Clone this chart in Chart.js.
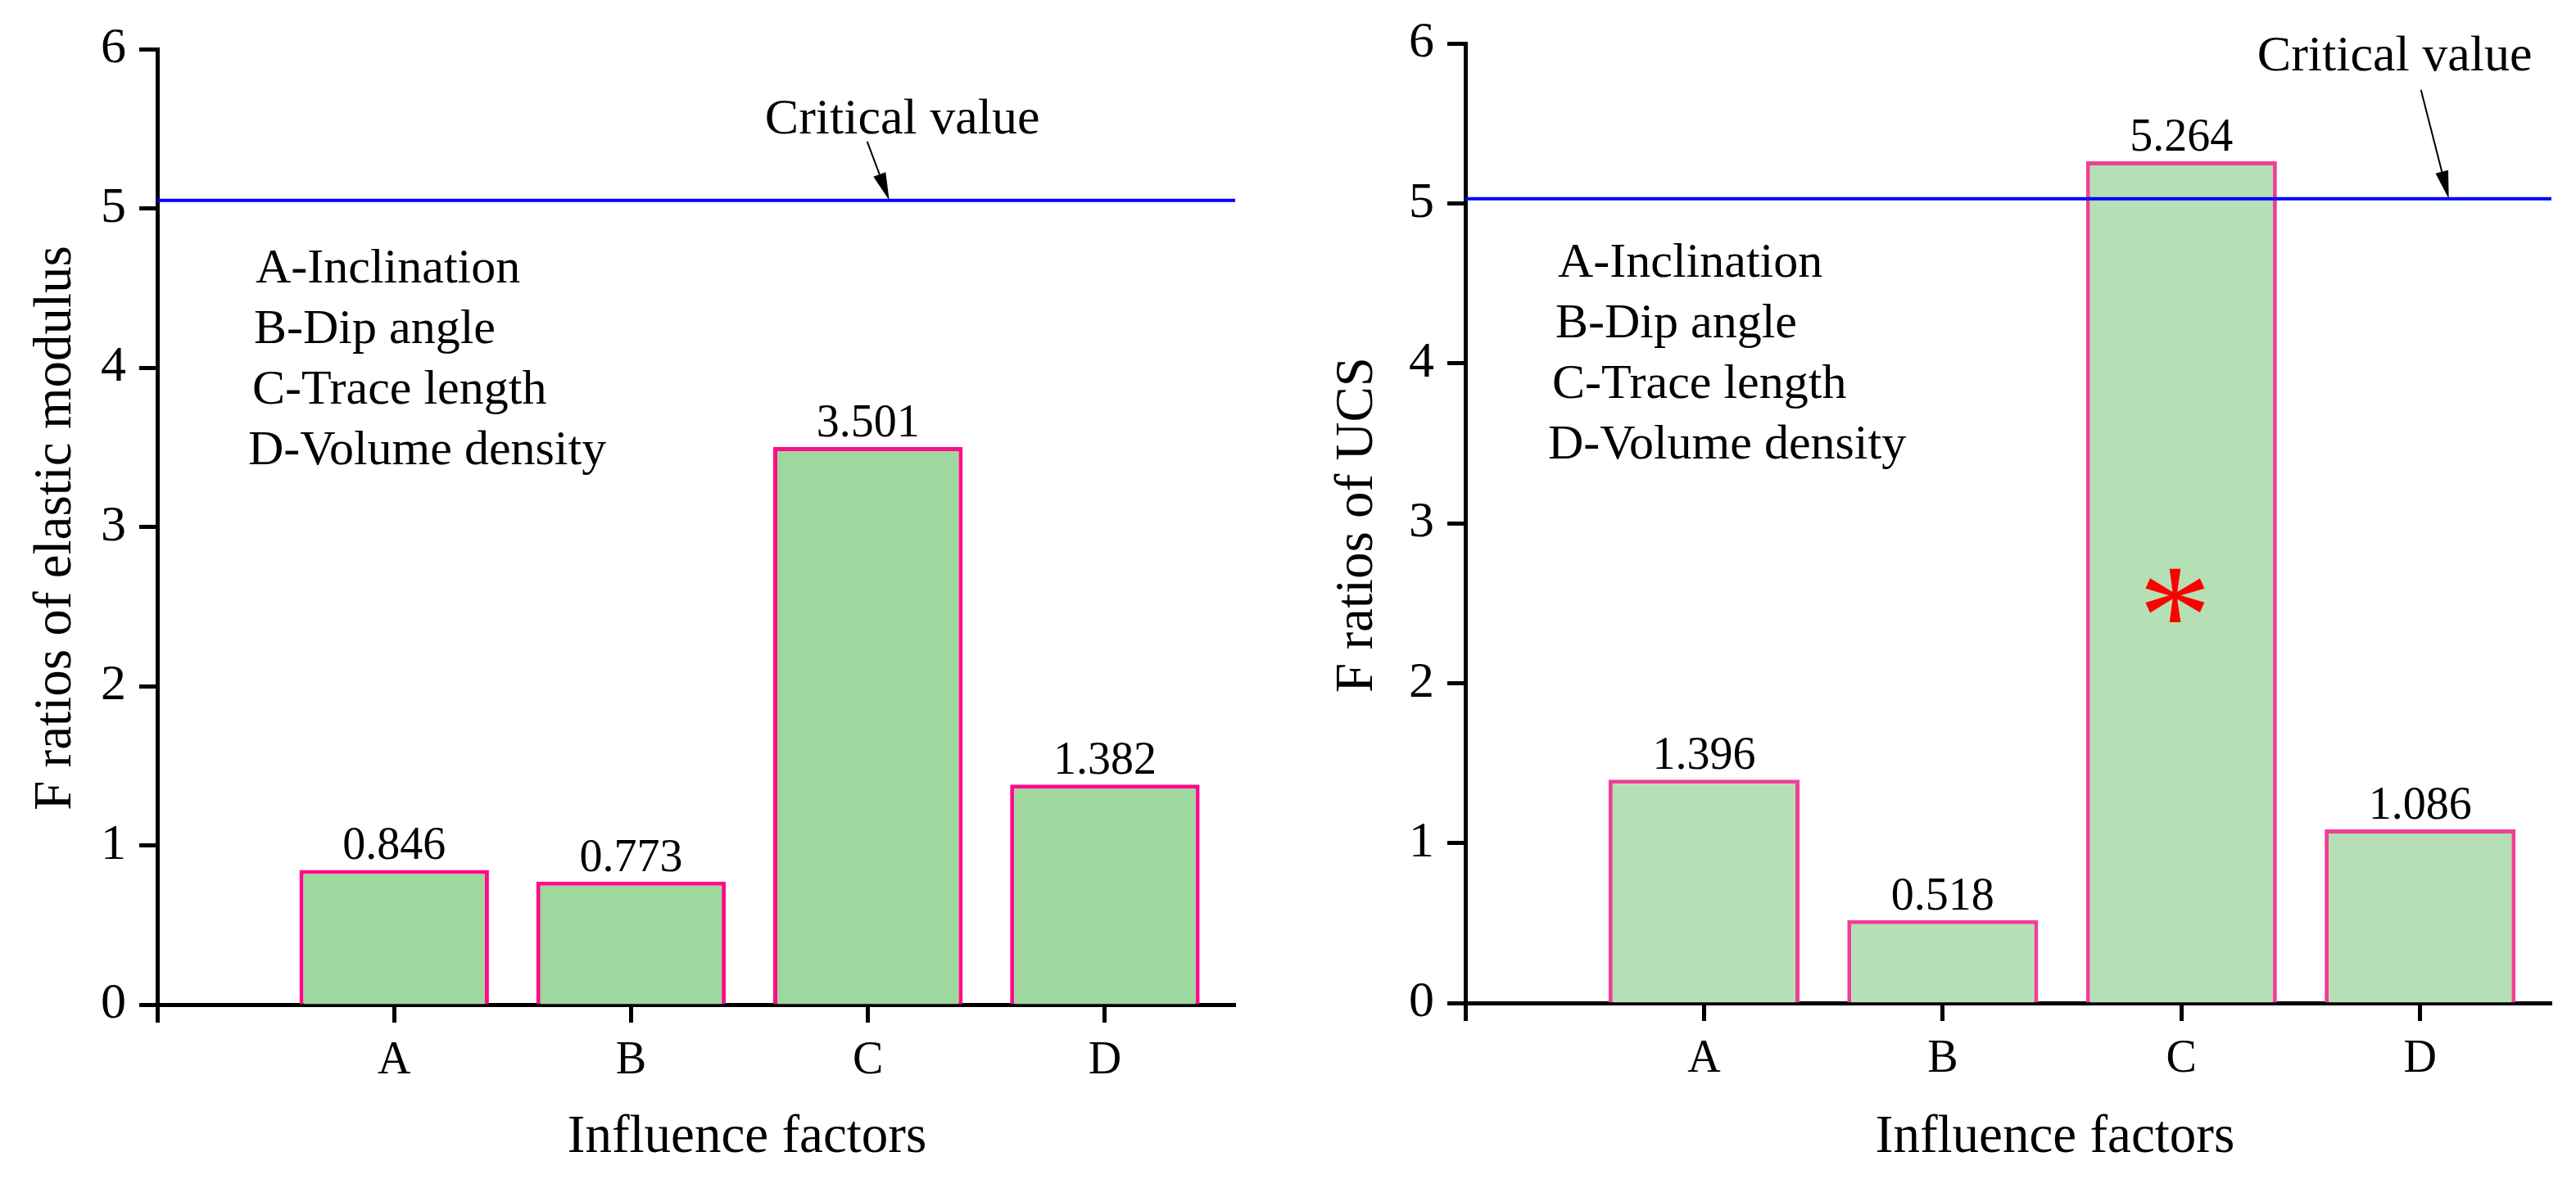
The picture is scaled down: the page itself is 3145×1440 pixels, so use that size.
<!DOCTYPE html>
<html><head><meta charset="utf-8">
<script src="https://cdn.jsdelivr.net/npm/chart.js@4.4.0/dist/chart.umd.min.js"></script>
<style>
html,body{margin:0;padding:0;background:#fff;}
#wrap{position:relative;width:3145px;height:1440px;background:#fff;}
canvas{position:absolute;top:0;}
</style></head><body>
<div id="wrap">
<canvas id="c1" width="1572" height="1440" style="left:0"></canvas>
<canvas id="c2" width="1573" height="1440" style="left:1572px"></canvas>
</div>
<script>
// ---- data ----
const categories = ['A', 'B', 'C', 'D'];
const factorNames = ['A-Inclination', 'B-Dip angle', 'C-Trace length', 'D-Volume density'];
const elasticF = [0.846, 0.773, 3.501, 1.382];
const ucsF = [1.396, 0.518, 5.264, 1.086];
const criticalValues = [5.05, 5.03];
const criticalLabel = 'Critical value';
const yTitles = ['F ratios of elastic modulus', 'F ratios of UCS'];
const xTitle = 'Influence factors';
const ucsMarkers = [null, null, 2.55, null];
const yMin = 0, yMax = 6, yStep = 1;
const xMax = 4.55;

const FONT = "'Liberation Serif', 'Times New Roman', serif";

const annot = {
  id: 'annot',
  afterDatasetsDraw(chart, args, o) {
    const ctx = chart.ctx;
    const xs = chart.scales.x, ys = chart.scales.y;
    const ca = chart.chartArea;
    ctx.save();
    ctx.fillStyle = '#000';
    // value labels
    const meta = chart.getDatasetMeta(1);
    ctx.font = '56px ' + FONT;
    ctx.textAlign = 'center';
    ctx.textBaseline = 'alphabetic';
    meta.data.forEach((el, i) => {
      const v = chart.data.datasets[1].data[i].y;
      ctx.fillText(v.toFixed(3), el.x, el.y - 13);
    });
    // critical value arrow + text
    const tipX = xs.getPixelForValue(o.arrowX);
    const tipY = ys.getPixelForValue(o.critical);
    const tailX = tipX + o.tail[0], tailY = tipY + o.tail[1];
    const ang = Math.atan2(tipY - tailY, tipX - tailX);
    const hl = 34, hw = 8;
    const bx = tipX - hl * Math.cos(ang), by = tipY - hl * Math.sin(ang);
    ctx.strokeStyle = '#000';
    ctx.lineWidth = 2;
    ctx.beginPath(); ctx.moveTo(tailX, tailY); ctx.lineTo(bx, by); ctx.stroke();
    ctx.beginPath();
    ctx.moveTo(tipX, tipY);
    ctx.lineTo(bx + hw * Math.sin(ang), by - hw * Math.cos(ang));
    ctx.lineTo(bx - hw * Math.sin(ang), by + hw * Math.cos(ang));
    ctx.closePath(); ctx.fill();
    ctx.font = '62px ' + FONT;
    ctx.fillText(criticalLabel, tipX + o.text[0], tipY + o.text[1]);
    // legend text
    ctx.font = '60px ' + FONT;
    ctx.textAlign = 'left';
    factorNames.forEach((t, i) => {
      ctx.fillText(t, ca.left + o.legX[i], o.legY + i * 74);
    });
    // marker asterisk
    if (o.markers) {
      ctx.fillStyle = '#ff0000';
      ctx.font = '100px ' + FONT;
      let m = ctx.measureText('*');
      const h = m.actualBoundingBoxAscent + m.actualBoundingBoxDescent;
      const size = 100 * 66 / h;
      ctx.font = size.toFixed(1) + 'px ' + FONT;
      m = ctx.measureText('*');
      o.markers.forEach((v, i) => {
        if (v === null) return;
        const px = xs.getPixelForValue(i + 1), py = ys.getPixelForValue(v);
        const cx = (m.actualBoundingBoxRight - m.actualBoundingBoxLeft) / 2;
        const cy = (m.actualBoundingBoxDescent - m.actualBoundingBoxAscent) / 2;
        ctx.textAlign = 'left';
        ctx.fillText('*', px - cx + m.actualBoundingBoxLeft, py - cy);
      });
      ctx.fillStyle = '#000';
    }
    // axis titles
    ctx.font = '65px ' + FONT;
    ctx.textAlign = 'center';
    ctx.fillText(xTitle, ca.left + 720, 1407);
    ctx.save();
    ctx.translate(o.yTitleX, o.yTitleY);
    ctx.rotate(-Math.PI / 2);
    ctx.fillText(o.yTitle, 0, 0);
    ctx.restore();
    ctx.restore();
  }
};

function makeChart(id, values, critical, cfg) {
  const pts = values.map((v, i) => ({ x: i + 1, y: v }));
  const gridOpts = { display: true, offset: false, drawOnChartArea: false, drawTicks: true, tickLength: 22, tickWidth: 5, tickColor: '#000' };
  const borderOpts = { display: true, color: '#000', width: 5 };
  return new Chart(document.getElementById(id), {
    type: 'bar',
    data: {
      datasets: [
        { type: 'line', data: [{ x: 0, y: critical }, { x: xMax, y: critical }], borderColor: '#0000ff',
          borderWidth: 4, pointRadius: 0, order: 0, clip: false },
        { type: 'bar', data: pts, backgroundColor: cfg.fill, borderColor: cfg.border, borderWidth: cfg.bw,
          borderSkipped: 'bottom', barPercentage: 0.8, categoryPercentage: 1, order: 1 }
      ]
    },
    options: {
      responsive: false, devicePixelRatio: 1, animation: false,
      layout: { padding: { top: cfg.top, right: cfg.right, left: 0, bottom: 0 } },
      plugins: { legend: { display: false }, tooltip: { enabled: false }, annot: cfg.annot },
      scales: {
        x: {
          type: 'linear', min: 0, max: xMax, offset: false,
          grid: Object.assign({}, gridOpts), border: Object.assign({}, borderOpts),
          ticks: { stepSize: 1, includeBounds: false, autoSkip: false, maxRotation: 0, color: '#000',
            font: { family: FONT, size: 56 }, padding: 14,
            callback: (v) => (Number.isInteger(v) && v >= 1 && v <= categories.length) ? categories[v - 1] : '' },
          afterFit: (s) => { s.height = cfg.xh; }
        },
        y: {
          type: 'linear', min: yMin, max: yMax,
          grid: Object.assign({}, gridOpts), border: Object.assign({}, borderOpts),
          ticks: { stepSize: yStep, color: '#000', font: { family: FONT, size: 62 }, padding: 16 },
          afterFit: (s) => { s.width = cfg.yw; }
        }
      }
    },
    plugins: [annot]
  });
}

makeChart('c1', elasticF, criticalValues[0], {
  fill: '#9ED89E', border: '#FF0A8A', bw: 5, top: 60, right: 64, xh: 213, yw: 192,
  annot: { critical: criticalValues[0], arrowX: 3.09, tail: [-27, -72], text: [16, -82],
    legX: [120, 118, 116, 111], legY: 345, yTitle: yTitles[0], yTitleX: 86, yTitleY: 645 }
});
makeChart('c2', ucsF, criticalValues[1], {
  fill: '#B5E0B6', border: '#F03F96', bw: 5, top: 49, right: 30, xh: 215, yw: 217,
  annot: { critical: criticalValues[1], arrowX: 4.12, tail: [-34, -133], text: [-66, -157],
    legX: [113, 110, 106, 101], legY: 338, yTitle: yTitles[1], yTitleX: 103, yTitleY: 641, markers: ucsMarkers }
});
</script>
</body></html>
